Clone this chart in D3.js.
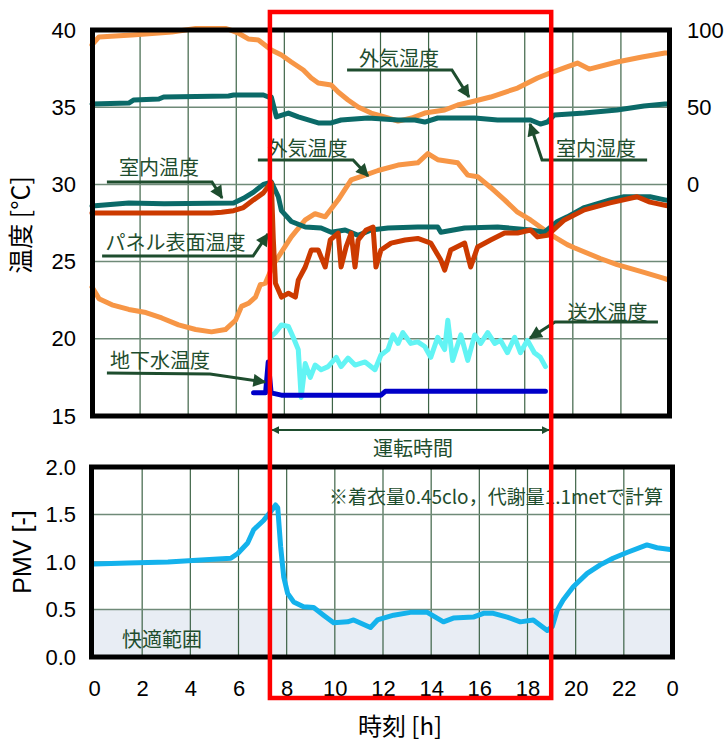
<!DOCTYPE html>
<html>
<head>
<meta charset="utf-8">
<script src="https://cdn.jsdelivr.net/npm/d3@7/dist/d3.min.js"></script>
<style>
  body { margin: 0; background: #fff; }
  svg text { font-family: "Liberation Sans", Arial, sans-serif; }
  svg text.jp { font-family: "Noto Sans CJK JP", "Noto Sans", sans-serif; }
</style>
</head>
<body>
<svg id="chart" width="724" height="744"></svg>
<script>
// ---- data (hour, value) ----
const outdoorRH = [[0,90.3],[0.29,95.5],[1.66,96.8],[2.78,98.1],[3.32,98.7],[4.31,101],[5.55,101],[5.8,99.7],[6.1,97.9],[6.5,94.2],[6.92,93.5],[7.46,87],[7.88,83.8],[8.29,79.3],[8.79,74.1],[9.12,68.9],[9.41,65.7],[9.95,64.4],[10.24,59.8],[10.65,54.7],[11.07,50.1],[11.61,46.2],[12.31,43],[12.73,41],[13.3,43],[13.84,46.2],[14.67,48.2],[15.21,51.4],[15.75,53.4],[16.58,56.6],[17.7,62.4],[18.53,68.9],[19.07,72.2],[20.19,78.6],[20.68,74.7],[21.84,79.3],[22.88,82.5],[23.83,85.1],[24,85.1]]
const indoorRH = [[0,52.1],[1.53,52.7],[1.74,54.7],[2.78,55.3],[2.98,56.6],[5.68,57.3],[5.89,57.9],[7.13,57.9],[7.34,56.6],[7.46,56.6],[7.67,43.7],[8.17,46.2],[8.58,43.7],[9.41,39.8],[9.95,39.8],[10.36,41.7],[11.48,43],[12.73,41.7],[13.43,41.7],[13.84,40.4],[14.38,43],[15.92,43],[16.87,41.7],[17.7,41.7],[18.24,41.7],[18.65,39.1],[18.94,40.4],[19.23,44.9],[20.48,46.2],[21.84,48.2],[22.96,50.8],[23.83,52.1],[24,52.1]]
const outdoorT = [[0,23.35],[0.29,22.6],[0.83,22.2],[1.53,21.9],[2.24,21.7],[2.9,21.35],[3.6,20.9],[4.31,20.6],[4.97,20.45],[5.55,20.6],[5.97,21.2],[6.22,22.1],[6.51,22.3],[6.8,22.7],[7.0,23.5],[7.21,23.6],[7.54,24.8],[8.29,26.6],[8.87,27.7],[9.28,28.1],[9.7,27.9],[10.24,29.0],[10.78,30.3],[11.36,30.6],[11.9,30.9],[12.73,31.25],[13.55,31.4],[13.97,32.0],[14.38,31.6],[15.21,31.4],[15.63,30.6],[16.04,30.5],[16.58,29.8],[17.16,29.0],[17.7,28.2],[18.24,27.7],[18.82,27.05],[19.23,26.6],[19.77,26.1],[20.06,25.9],[21.14,25.2],[21.84,24.8],[22.96,24.3],[23.83,23.9],[24,23.8]]
const indoorT = [[0,28.6],[1.53,28.8],[3.0,28.75],[5.89,28.8],[6.3,29.1],[6.72,29.5],[7.13,30.0],[7.46,30.15],[7.75,29.2],[7.88,28.3],[8.29,27.6],[8.87,27.24],[9.53,27.18],[9.95,26.9],[10.53,27.05],[11.07,26.7],[11.61,27.05],[12.31,27.18],[13.55,27.24],[14.38,27.24],[14.51,26.9],[15.5,27.18],[16.87,27.24],[18.24,27.05],[18.82,26.9],[19.36,27.6],[19.77,27.9],[20.48,28.5],[21.55,29.0],[22.13,29.2],[23.21,29.2],[23.83,29.0],[24,28.95]]
const panelT = [[0,28.15],[4.97,28.15],[5.39,28.2],[5.89,28.3],[6.3,28.5],[6.72,29.0],[7.13,29.45],[7.34,29.9],[7.46,30.1],[7.54,26.5],[7.63,23.6],[7.88,22.7],[8.17,22.95],[8.46,22.7],[8.58,23.8],[8.87,24.65],[9.12,25.75],[9.41,25.75],[9.7,24.65],[9.91,26.4],[10.24,26.85],[10.36,24.65],[10.57,25.95],[10.78,26.85],[10.94,24.65],[11.07,26.4],[11.4,27.05],[11.69,27.24],[11.81,24.65],[12.02,25.75],[12.44,26.2],[13.02,26.4],[13.55,26.5],[14.09,26.2],[14.51,25.1],[14.67,24.45],[14.92,25.75],[15.5,26.2],[15.75,24.65],[16.04,25.95],[16.58,26.4],[17.16,26.85],[17.7,26.85],[18.24,27.05],[18.53,26.6],[18.94,26.7],[19.65,27.7],[20.48,28.35],[21.55,28.8],[22.67,29.2],[23.21,28.85],[23.83,28.65],[24,28.6]]
const supplyT = [[7.42,20.1],[7.63,20.4],[7.88,20.9],[8.17,20.8],[8.37,20.1],[8.58,19.3],[8.7,16.2],[8.87,18.4],[9.08,17.5],[9.28,18.3],[9.53,18.0],[9.82,18.2],[10.16,18.8],[10.36,18.2],[10.65,18.75],[10.94,18.3],[11.36,18.5],[11.77,18.0],[12.02,18.95],[12.31,19.3],[12.52,20.25],[12.73,19.7],[12.93,20.4],[13.26,19.7],[13.55,19.8],[13.84,19.5],[14.09,18.8],[14.38,20.1],[14.67,19.3],[14.8,21.2],[15.0,18.6],[15.34,20.25],[15.63,18.6],[15.92,20.25],[16.17,19.7],[16.46,20.4],[16.75,19.7],[16.99,19.9],[17.28,19.1],[17.58,20.1],[17.82,19.1],[18.11,19.9],[18.4,19.1],[18.65,18.8],[18.86,18.2]]
const groundT = [[6.72,16.5],[7.22,16.5],[7.33,18.5],[7.45,16.5],[7.88,16.35],[12.02,16.35],[12.2,16.6],[18.86,16.6]]
const pmv = [[0,0.98],[1.41,0.99],[3.07,1.0],[4.44,1.02],[5.68,1.04],[5.97,1.09],[6.38,1.2],[6.63,1.34],[7.05,1.44],[7.34,1.53],[7.54,1.6],[7.63,1.57],[7.75,1.16],[7.88,0.84],[8.04,0.67],[8.29,0.58],[8.7,0.53],[9.12,0.52],[9.53,0.44],[9.95,0.36],[10.53,0.37],[10.78,0.39],[11.48,0.31],[11.77,0.39],[12.44,0.44],[13.14,0.47],[13.84,0.47],[14.51,0.37],[14.92,0.41],[15.75,0.42],[16.17,0.46],[16.58,0.46],[17.16,0.42],[17.7,0.37],[18.24,0.39],[18.82,0.28],[19.03,0.32],[19.23,0.49],[19.48,0.6],[19.9,0.74],[20.48,0.88],[21.02,0.97],[21.55,1.04],[22.13,1.1],[22.96,1.18],[23.38,1.15],[24,1.13]]

const opHours = [7.4, 19.1]          // operating time (red frame)
const comfortPMV = [0, 0.5]
const hourTicks = [0,2,4,6,8,10,12,14,16,18,20,22,24]
const tempTicks = [15,20,25,30,35,40]
const rhTicks = [0,50,100]
const pmvTicks = [0,0.5,1,1.5,2]

// ---- layout ----
const svg = d3.select('#chart')
const green = '#1e4d2e'

// Scales
const xT = d3.scaleLinear().domain([0, 24]).range([92, 669])
const xB = d3.scaleLinear().domain([0, 24]).range([94, 672])
const yT = d3.scaleLinear().domain([15, 40]).range([416, 30])
const yRH = d3.scaleLinear().domain([-150, 100]).range([416, 30])
const yP = d3.scaleLinear().domain([0, 2]).range([657, 467])

// Arrow markers
const defs = svg.append('defs')
defs.append('marker').attr('id', 'arr')
    .attr('viewBox', '0 0 10 10').attr('refX', 9).attr('refY', 5)
    .attr('markerWidth', 15).attr('markerHeight', 13)
    .attr('markerUnits', 'userSpaceOnUse').attr('orient', 'auto')
    .append('path').attr('d', 'M0,0L10,5L0,10z').attr('fill', green)
defs.append('marker').attr('id', 'arrS')
    .attr('viewBox', '0 0 10 10').attr('refX', 9).attr('refY', 5)
    .attr('markerWidth', 8).attr('markerHeight', 8)
    .attr('markerUnits', 'userSpaceOnUse').attr('orient', 'auto-start-reverse')
    .append('path').attr('d', 'M0,0L10,5L0,10z').attr('fill', green)

// ---- comfort band (bottom) ----
svg.append('rect')
    .attr('x', xB(0)).attr('width', xB(24) - xB(0))
    .attr('y', yP(comfortPMV[1])).attr('height', yP(comfortPMV[0]) - yP(comfortPMV[1]))
    .attr('fill', '#e8edf4')

// ---- gridlines ----
function vgrid(x, y0, y1) {
    svg.append('g').selectAll('line')
        .data(hourTicks.slice(1, -1))
        .join('line')
        .attr('x1', d => x(d)).attr('x2', d => x(d))
        .attr('y1', y0).attr('y2', y1)
        .attr('stroke', '#2a5434').attr('stroke-width', 1.2).attr('opacity', 0.9)
}
function hgrid(y, ticks, x0, x1) {
    svg.append('g').selectAll('line')
        .data(ticks)
        .join('line')
        .attr('x1', x0).attr('x2', x1)
        .attr('y1', d => y(d)).attr('y2', d => y(d))
        .attr('stroke', '#6f8a78').attr('stroke-width', 1.5)
}
vgrid(xT, 30, 416)
hgrid(yT, tempTicks.slice(1, -1), 92, 669)
vgrid(xB, 467, 657)
hgrid(yP, pmvTicks.slice(1, -1), 92, 672)

// ---- series ----
const lineT = d3.line().x(d => xT(d[0])).y(d => yT(d[1]))
const lineRH = d3.line().x(d => xT(d[0])).y(d => yRH(d[1]))
const lineP = d3.line().x(d => xB(d[0])).y(d => yP(d[1]))

const series = [
    { data: outdoorRH, gen: lineRH, color: '#f79646' },
    { data: indoorRH, gen: lineRH, color: '#0b6a68' },
    { data: outdoorT, gen: lineT, color: '#f79646' },
    { data: indoorT, gen: lineT, color: '#0b6a68' },
    { data: panelT, gen: lineT, color: '#cc3a00' },
    { data: supplyT, gen: lineT, color: '#62f4f4' },
    { data: groundT, gen: lineT, color: '#0000c8' },
    { data: pmv, gen: lineP, color: '#14b2ec' }
]
svg.append('g').selectAll('path')
    .data(series)
    .join('path')
    .attr('d', d => d.gen(d.data))
    .attr('fill', 'none')
    .attr('stroke', d => d.color)
    .attr('stroke-width', 5)
    .attr('stroke-linejoin', 'round')
    .attr('stroke-linecap', 'round')

// ---- plot frames ----
svg.append('rect').attr('x', 92.5).attr('y', 30).attr('width', 577).attr('height', 386)
    .attr('fill', 'none').attr('stroke', '#000').attr('stroke-width', 5)
svg.append('rect').attr('x', 91.5).attr('y', 467).attr('width', 581).attr('height', 190)
    .attr('fill', 'none').attr('stroke', '#000').attr('stroke-width', 5)

// ---- axes (labels only) ----
function styleAxis(g) {
    g.select('.domain').remove()
    g.selectAll('text').attr('font-size', 22).attr('fill', '#000')
        .style('font-family', '"Liberation Sans", Arial, sans-serif')
}
svg.append('g').attr('transform', 'translate(92,0)')
    .call(d3.axisLeft(yT).tickValues(tempTicks).tickSize(0).tickPadding(16))
    .call(styleAxis)
svg.append('g').attr('transform', 'translate(669,0)')
    .call(d3.axisRight(yRH).tickValues(rhTicks).tickSize(0).tickPadding(18))
    .call(styleAxis)
svg.append('g').attr('transform', 'translate(92,0)')
    .call(d3.axisLeft(yP).tickValues(pmvTicks).tickSize(0).tickPadding(16).tickFormat(d3.format('.1f')))
    .call(styleAxis)
svg.append('g').attr('transform', 'translate(0,657)')
    .call(d3.axisBottom(xB).tickValues(hourTicks).tickSize(0).tickPadding(23).tickFormat(d => d % 24))
    .call(styleAxis)

// Axis titles
svg.append('text').attr('class', 'jp')
    .attr('transform', 'translate(30,225) rotate(-90)')
    .attr('text-anchor', 'middle').attr('font-size', 25)
    .text('温度 [°C]')
svg.append('text')
    .attr('transform', 'translate(31,552) rotate(-90)')
    .attr('text-anchor', 'middle').attr('font-size', 25)
    .text('PMV [-]')
svg.append('text').attr('class', 'jp')
    .attr('x', 400).attr('y', 735)
    .attr('text-anchor', 'middle').attr('font-size', 24)
    .text('時刻 [h]')

// ---- annotations (top chart, data coords) ----
const notes = [
    { text: '外気湿度', at: [12.77, 38.25], path: [[10.61, 37.41], [14.97, 37.41], [15.68, 35.66]] },
    { text: '外気温度', at: [8.96, 32.42], path: [[6.9, 31.58], [10.86, 31.58], [11.48, 30.54]] },
    { text: '室内湿度', at: [20.96, 32.42], path: [[23.09, 31.58], [18.72, 31.58], [18.22, 33.91]] },
    { text: '室内温度', at: [2.79, 31.13], path: [[0.62, 30.16], [4.99, 30.16], [5.41, 29.12]] },
    { text: 'パネル表面温度', at: [3.47, 26.27], path: [[0.42, 25.36], [6.7, 25.36], [7.32, 26.79]] },
    { text: '地下水温度', at: [2.83, 18.63], path: [[0.62, 17.78], [4.91, 17.72], [7.2, 17.2]] },
    { text: '送水温度', at: [21.44, 21.8], path: [[23.54, 21.09], [19.26, 21.09], [18.22, 20.05]] }
]
const noteLine = d3.line().x(d => xT(d[0])).y(d => yT(d[1]))
svg.append('g').selectAll('path')
    .data(notes)
    .join('path')
    .attr('d', d => noteLine(d.path))
    .attr('fill', 'none').attr('stroke', green).attr('stroke-width', 3)
    .attr('marker-end', 'url(#arr)')
svg.append('g').selectAll('text')
    .data(notes)
    .join('text')
    .attr('class', 'jp')
    .attr('x', d => xT(d.at[0])).attr('y', d => yT(d.at[1]))
    .attr('text-anchor', 'middle').attr('dominant-baseline', 'central')
    .attr('font-size', 20).attr('fill', green)
    .text(d => d.text)

// Operating time bracket
svg.append('line')
    .attr('x1', xT(7.49)).attr('x2', xT(19.01))
    .attr('y1', yT(14.09)).attr('y2', yT(14.09))
    .attr('stroke', green).attr('stroke-width', 2)
    .attr('marker-start', 'url(#arrS)').attr('marker-end', 'url(#arrS)')
svg.append('text').attr('class', 'jp')
    .attr('x', xT(13.35)).attr('y', yT(12.93))
    .attr('text-anchor', 'middle').attr('dominant-baseline', 'central')
    .attr('font-size', 20).attr('fill', green)
    .text('運転時間')

// Bottom chart notes
svg.append('text').attr('class', 'jp')
    .attr('x', xB(23.63)).attr('y', yP(1.705))
    .attr('text-anchor', 'end').attr('dominant-baseline', 'central')
    .attr('font-size', 19).attr('fill', green)
    .text('※着衣量0.45clo，代謝量1.1metで計算')
svg.append('text').attr('class', 'jp')
    .attr('x', xB(2.82)).attr('y', yP(0.2))
    .attr('text-anchor', 'middle').attr('dominant-baseline', 'central')
    .attr('font-size', 20).attr('fill', green)
    .text('快適範囲')

// ---- red frame for operating hours ----
svg.append('rect')
    .attr('x', xT(opHours[0])).attr('width', xT(opHours[1]) - xT(opHours[0]))
    .attr('y', 12).attr('height', 686)
    .attr('fill', 'none').attr('stroke', '#ff0000').attr('stroke-width', 4.5)
</script>
</body>
</html>
